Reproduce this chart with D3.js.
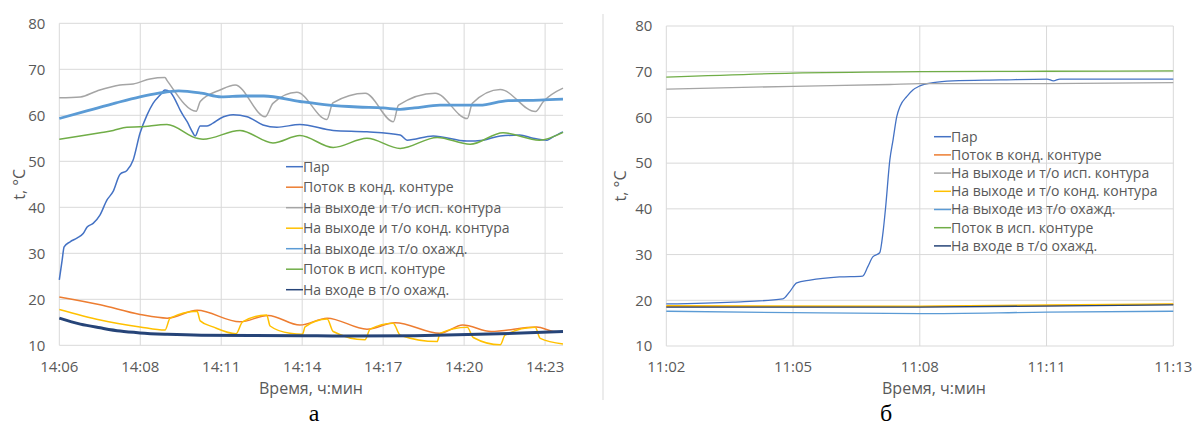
<!DOCTYPE html>
<html>
<head>
<meta charset="utf-8">
<style>
  body { margin: 0; background: #fff; }
  svg text { font-family: "Open Sans", sans-serif; fill: #595959; }
  .caption { font-family: "Liberation Serif", serif !important; fill: #000 !important; }
</style>
<script src="https://cdn.jsdelivr.net/npm/d3@7"></script>
</head>
<body>
<script>
// series names and colours (same order in both legends)
var seriesNames = ["Пар", "Поток в конд. контуре", "На выходе и т/о исп. контура",
    "На выходе и т/о конд. контура", "На выходе из т/о охажд.", "Поток в исп. контуре",
    "На входе в т/о охажд."]
var seriesColors = ["#4472c4", "#ed7d31", "#a5a5a5", "#ffc000", "#5b9bd5", "#70ad47", "#264478"]

var yTicks = [10, 20, 30, 40, 50, 60, 70, 80]

// chart а : minutes from 14:06
var xLabelsA = ["14:06", "14:08", "14:11", "14:14", "14:17", "14:20", "14:23"]
var tickStepA = 2.85, xMaxA = 17.73

var parA = [[0, 24.2], [0.1, 28.5], [0.17, 31.4], [0.38, 32.5], [0.62, 33.3], [0.84, 34.3], [0.98, 35.7],
    [1.19, 36.5], [1.43, 38.3], [1.68, 41.6], [1.89, 43.4], [2.14, 47.2], [2.38, 48.0], [2.6, 50.3],
    [2.84, 56.1], [3.09, 60.1], [3.3, 62.6], [3.55, 64.4], [3.72, 65.5], [3.9, 65.1], [4.14, 62.6],
    [4.25, 61.2], [4.35, 60.1], [4.5, 58.6], [4.71, 56.1], [4.78, 55.5], [4.96, 57.7], [5.2, 57.7],
    [5.41, 58.3], [5.66, 59.3], [6.12, 60.1], [6.61, 59.7], [7.17, 57.9], [7.66, 57.4], [8.47, 58.0],
    [9.64, 56.7], [10.83, 56.4], [12.0, 55.7], [12.24, 54.6], [13.16, 55.5], [14.35, 54.4],
    [14.92, 54.6], [15.52, 55.5], [16.2, 55.7], [16.68, 55.0], [17.17, 54.6], [17.38, 55.3], [17.73, 56.4]]
var kondFlowA = [[0, 20.5], [1.44, 18.8], [2.84, 16.7], [3.8, 15.9], [4.85, 17.6], [6.36, 15.1],
    [7.35, 16.5], [8.47, 14.4], [9.43, 15.9], [10.83, 13.5], [11.82, 14.9], [13.4, 12.6],
    [14.2, 14.4], [15.2, 13.0], [16.8, 14.0], [17.4, 13.0], [17.73, 12.9]]
var ispOutA = [[0, 63.8], [0.74, 64.0], [1.33, 65.3], [2.14, 66.6], [2.6, 66.8], [3.19, 67.9],
    [3.72, 68.2], [3.79, 67.6], [4.82, 60.9], [4.96, 63.0], [5.66, 65.5], [6.19, 66.6], [7.25, 59.7],
    [7.52, 62.6], [8.36, 65.0], [9.42, 59.1], [9.63, 62.7], [10.77, 64.8], [11.76, 58.6],
    [11.94, 62.2], [13.23, 64.8], [14.36, 59.3], [14.54, 62.6], [15.52, 65.6], [16.76, 60.8],
    [17.04, 63.0], [17.73, 65.9]]
var kondOutA = [[0, 17.8], [1.44, 15.5], [2.84, 14.0], [3.72, 13.3], [3.9, 15.9], [4.85, 17.4],
    [4.96, 15.3], [5.41, 14.0], [6.22, 12.5], [6.45, 15.1], [7.3, 16.6], [7.42, 14.2], [8.12, 12.6],
    [8.56, 12.4], [8.65, 14.0], [9.43, 15.7], [9.64, 13.0], [10.76, 11.2], [10.94, 13.5],
    [11.75, 14.8], [12.0, 12.2], [13.3, 10.8], [13.4, 12.6], [14.36, 13.9], [14.57, 11.7],
    [15.52, 10.1], [15.69, 12.2], [16.75, 13.9], [16.93, 11.5], [17.73, 10.3]]
var coolOutA = [[0, 59.3], [1, 61.0], [2, 62.7], [2.84, 64.0], [3.5, 64.8], [4.2, 65.3], [5, 64.8],
    [5.7, 64.0], [6.5, 64.2], [7.2, 64.2], [8.47, 63.0], [9.5, 62.2], [10.5, 61.8], [11.4, 61.6],
    [12.0, 61.3], [12.5, 61.6], [13.4, 62.2], [14.8, 62.2], [15.8, 63.2], [16.9, 63.3], [17.73, 63.5]]
var ispFlowA = [[0, 54.8], [1.44, 56.2], [1.9, 56.7], [2.38, 57.4], [2.84, 57.5], [3.79, 58.0],
    [4.85, 55.0], [5.06, 54.8], [6.36, 56.7], [7.52, 54.0], [8.47, 55.6], [9.64, 53.0], [10.83, 55.0],
    [12.0, 52.8], [13.3, 55.2], [14.46, 53.7], [15.62, 56.2], [16.9, 54.6], [17.73, 56.3]]
var coolInA = [[0, 15.9], [0.74, 14.6], [1.44, 13.8], [2.14, 13.1], [2.84, 12.7], [3.8, 12.4],
    [5, 12.2], [8.5, 12.1], [10, 12.0], [12.5, 12.1], [15.5, 12.5], [17.73, 13.0]]

// chart б : minutes from 11:02
var xLabelsB = ["11:02", "11:05", "11:08", "11:11", "11:13"]
var tickStepB = 2.75, xMaxB = 11

var parB = [[0, 19.2], [1.45, 19.6], [2.53, 20.3], [2.68, 21.9], [2.83, 23.8], [3.12, 24.4],
    [3.76, 25.1], [4.26, 25.3], [4.37, 27.3], [4.48, 29.5], [4.63, 30.4], [4.7, 34.7], [4.76, 40.5],
    [4.85, 50.7], [4.92, 55.1], [5.0, 60.2], [5.07, 62.4], [5.22, 64.6], [5.35, 66.0], [5.5, 66.9],
    [5.79, 67.6], [6.22, 68.0], [7.24, 68.2], [8.26, 68.4], [8.4, 68.0], [8.54, 68.4], [11, 68.4]]
var kondFlowB = [[0, 18.6], [5.5, 18.6], [11, 19.1]]
var ispOutB = [[0, 66.2], [2.75, 66.8], [4.85, 67.2], [5.5, 67.4], [8.25, 67.4], [11, 67.6]]
var kondOutB = [[0, 18.8], [5.5, 18.7], [11, 19.2]]
var coolOutB = [[0, 17.6], [2.75, 17.3], [5.5, 17.1], [8.25, 17.4], [11, 17.6]]
var ispFlowB = [[0, 68.8], [2.75, 69.7], [5.5, 70.0], [8.25, 70.1], [11, 70.2]]
var coolInB = [[0, 18.5], [5.5, 18.5], [11, 19.0]]

var width = 1196, height = 426
var svg = d3.select("body").append("svg")
    .attr("width", width)
    .attr("height", height)

function drawChart(cfg) {
    var g = svg.append("g")
    var x = d3.scaleLinear().domain([0, cfg.xMax]).range([cfg.left, cfg.right])
    var y = d3.scaleLinear().domain([10, 80]).range([cfg.bottom, cfg.top])
    var xt = cfg.xLabels.map((l, i) => i * cfg.step)

    // grid
    g.selectAll(".hgrid").data(yTicks).enter().append("line")
        .attr("x1", cfg.left).attr("x2", cfg.right)
        .attr("y1", d => y(d)).attr("y2", d => y(d))
        .attr("stroke", "#d9d9d9")
    g.selectAll(".vgrid").data(xt).enter().append("line")
        .attr("x1", d => x(d)).attr("x2", d => x(d))
        .attr("y1", cfg.top).attr("y2", cfg.bottom)
        .attr("stroke", "#d9d9d9")

    // tick labels
    g.selectAll(".ylab").data(yTicks).enter().append("text")
        .attr("x", cfg.left - 14).attr("y", d => y(d)).attr("dy", "0.35em")
        .attr("text-anchor", "end").style("font-size", "15px")
        .text(d => d)
    g.selectAll(".xlab").data(xt).enter().append("text")
        .attr("x", d => x(d)).attr("y", cfg.bottom + 21).attr("dy", "0.35em")
        .attr("text-anchor", "middle").style("font-size", "15px")
        .text((d, i) => cfg.xLabels[i])

    // axis titles
    g.append("text")
        .attr("transform", `translate(${cfg.ytitleX},${(cfg.top + cfg.bottom) / 2}) rotate(-90)`)
        .attr("text-anchor", "middle").attr("dy", "0.35em").style("font-size", "16px")
        .text("t, °C")
    g.append("text")
        .attr("x", cfg.xtitleX).attr("y", 388).attr("dy", "0.35em")
        .attr("text-anchor", "middle").style("font-size", "16px")
        .text("Время, ч:мин")
    g.append("text").attr("class", "caption")
        .attr("x", cfg.captionX).attr("y", 421)
        .attr("text-anchor", "middle").style("font-size", "24px")
        .text(cfg.caption)

    // lines
    var line = d3.line().x(d => x(d[0])).y(d => y(d[1])).curve(d3.curveMonotoneX)
    cfg.series.forEach((s, i) => {
        g.append("path")
            .datum(s)
            .attr("fill", "none")
            .attr("stroke", seriesColors[i])
            .attr("stroke-width", cfg.widths[i])
            .attr("stroke-linejoin", "round")
            .attr("d", line)
    })

    // legend
    var lg = g.append("g")
    seriesNames.forEach((name, i) => {
        var ly = cfg.legY + i * cfg.legStep
        lg.append("line")
            .attr("x1", cfg.legX).attr("x2", cfg.legX + 17)
            .attr("y1", ly).attr("y2", ly)
            .attr("stroke", seriesColors[i]).attr("stroke-width", 1.5)
        lg.append("text")
            .attr("x", cfg.legX + 17).attr("y", ly).attr("dy", "0.35em")
            .style("font-size", cfg.legFont)
            .text(name)
    })
}

drawChart({
    left: 59.3, right: 563, top: 23.3, bottom: 345.3,
    xMax: xMaxA, step: tickStepA, xLabels: xLabelsA,
    ytitleX: 19, xtitleX: 311, caption: "а", captionX: 314,
    series: [parA, kondFlowA, ispOutA, kondOutA, coolOutA, ispFlowA, coolInA],
    widths: [1.5, 1.5, 1.5, 1.5, 2.8, 1.5, 3],
    legX: 286, legY: 166.7, legStep: 20.5, legFont: "14px"
})

// frame line of chart б
svg.append("line")
    .attr("x1", 603).attr("x2", 603).attr("y1", 14).attr("y2", 400)
    .attr("stroke", "#d9d9d9")

drawChart({
    left: 666.3, right: 1173.3, top: 26, bottom: 346,
    xMax: xMaxB, step: tickStepB, xLabels: xLabelsB,
    ytitleX: 620, xtitleX: 934, caption: "б", captionX: 886,
    series: [parB, kondFlowB, ispOutB, kondOutB, coolOutB, ispFlowB, coolInB],
    widths: [1.3, 1.3, 1.3, 1.5, 1.3, 1.3, 1.3],
    legX: 934, legY: 136.7, legStep: 18.2, legFont: "14px"
})
</script>
</body>
</html>
